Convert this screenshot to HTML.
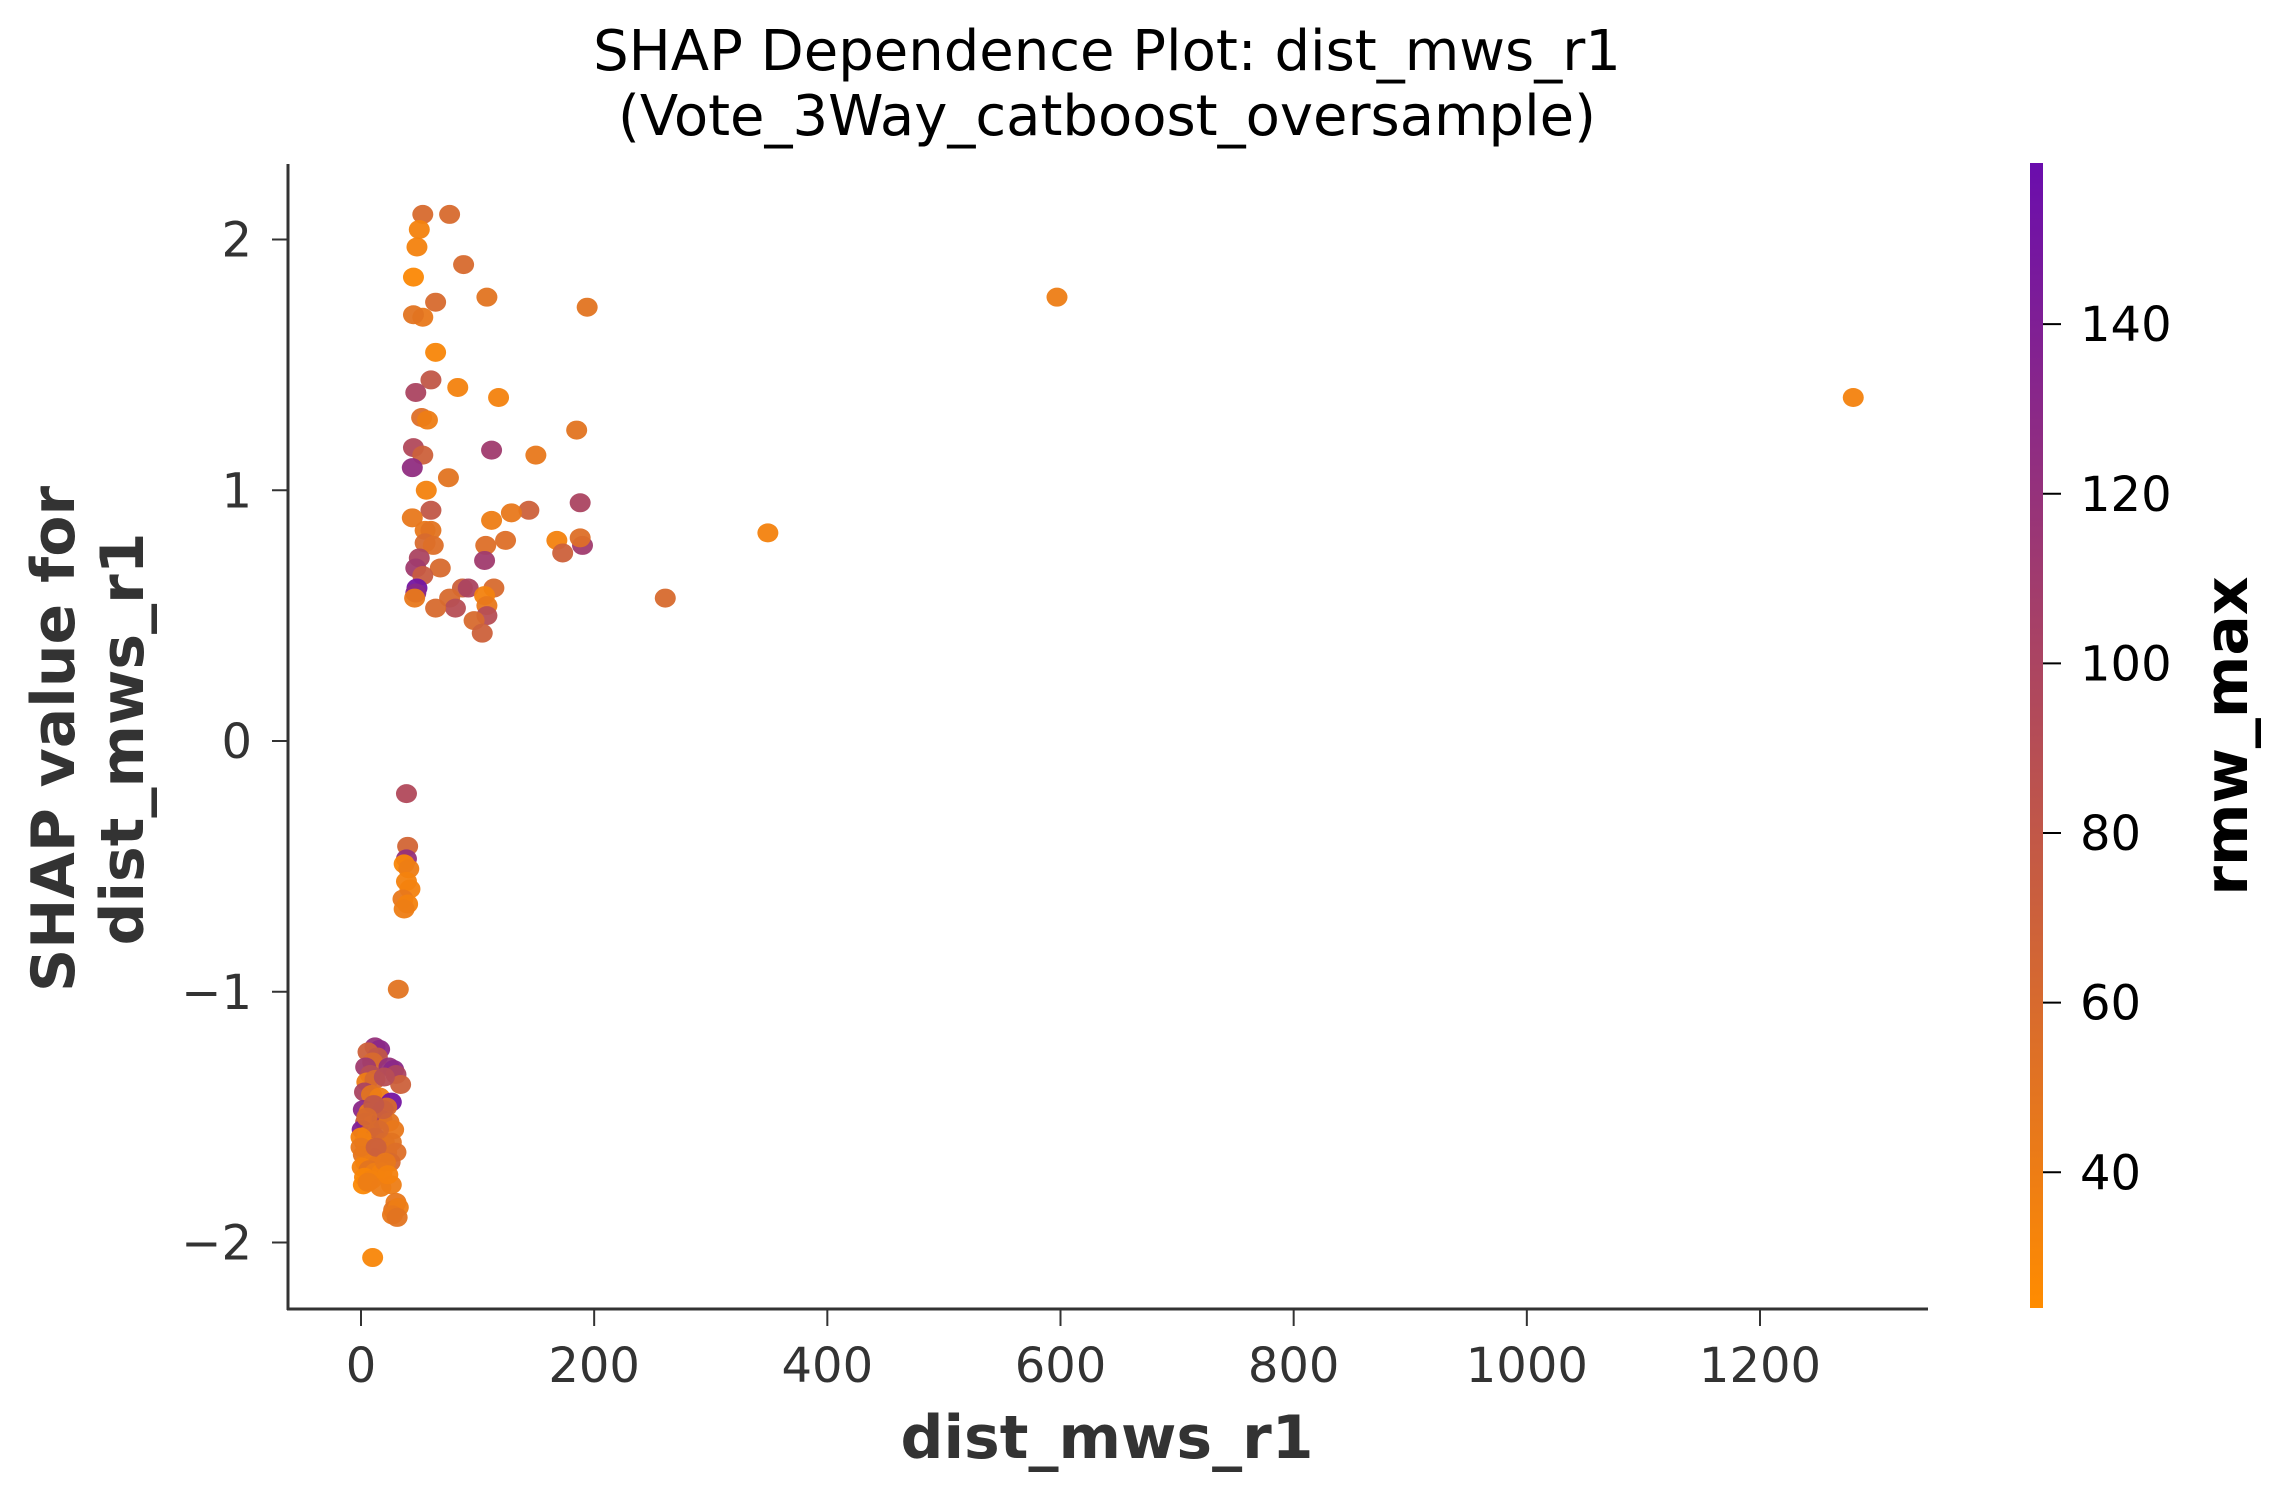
<!DOCTYPE html>
<html><head><meta charset="utf-8">
<style>
html,body{margin:0;padding:0;background:#fff;}
svg{display:block;font-family:"DejaVu Sans","Liberation Sans",sans-serif;}
</style></head>
<body>
<svg id="chart" width="2273" height="1493" viewBox="0 0 2273 1493" xmlns="http://www.w3.org/2000/svg">
<defs>
<linearGradient id="cbgrad" x1="0" y1="1" x2="0" y2="0">
<stop offset="0" stop-color="#ff8c00"/>
<stop offset="1" stop-color="#6a0dad"/>
</linearGradient>
</defs>
<g>
<text x="1107" y="70" text-anchor="middle" font-size="56" fill="#000">SHAP Dependence Plot: dist_mws_r1</text>
<text x="1107" y="135" text-anchor="middle" font-size="56" fill="#000">(Vote_3Way_catboost_oversample)</text>
</g>
<g id="points"></g>
<g id="axes"></g>
<rect x="2030" y="163" width="13" height="1145" fill="url(#cbgrad)"/>
<g id="cbticks"></g>
<text transform="translate(2247,736) rotate(-90)" text-anchor="middle" font-size="60" font-weight="bold" fill="#000">rmw_max</text>
<text x="1107" y="1458" text-anchor="middle" font-size="60" font-weight="bold" fill="#333">dist_mws_r1</text>
<g>
<text transform="translate(74,739) rotate(-90)" text-anchor="middle" font-size="60" font-weight="bold" fill="#333">SHAP value for</text>
<text transform="translate(143,739) rotate(-90)" text-anchor="middle" font-size="60" font-weight="bold" fill="#333">dist_mws_r1</text>
</g>
</svg>
<script>
const xTicks = [0,200,400,600,800,1000,1200];
const yTicks = [-2,-1,0,1,2];
const cTicks = [40,60,80,100,120,140];
const xVals = [53,76,50,48,88,45,64,108,194,53,45,64,60,83,118,47,52,57,185,45,112,53,150,44,75,56,188,60,144,44,129,112,55,60,124,168,55,62,107,190,188,173,50,47,68,53,106,48,47,87,92,114,46,76,106,108,81,64,108,97,104,261,349,597,1280,
39,40,39,37,41,39,42,36,40,37,32,10,
12,16,6,14,10,24,28,30,34,4,8,5,12,20,3,9,16,26,22,2,7,14,4,10,18,24,28,1,6,12,20,26,3,8,16,22,30,2,10,4,14,25,1,7,12,18,3,9,2,6,26,30,28,32,27,31,15,19,11,5,0,0,13,21,17,23];
const yVals = [2.1,2.1,2.04,1.97,1.9,1.85,1.75,1.77,1.73,1.69,1.7,1.55,1.44,1.41,1.37,1.39,1.29,1.28,1.24,1.17,1.16,1.14,1.14,1.09,1.05,1.0,0.95,0.92,0.92,0.89,0.91,0.88,0.84,0.84,0.8,0.8,0.79,0.78,0.78,0.78,0.81,0.75,0.73,0.69,0.69,0.66,0.72,0.61,0.59,0.61,0.61,0.61,0.57,0.57,0.58,0.54,0.53,0.53,0.5,0.48,0.43,0.57,0.83,1.77,1.37,
-0.21,-0.42,-0.47,-0.49,-0.51,-0.56,-0.59,-0.63,-0.65,-0.67,-0.99,-2.06,
-1.22,-1.23,-1.24,-1.26,-1.28,-1.30,-1.31,-1.33,-1.37,-1.3,-1.33,-1.36,-1.35,-1.34,-1.40,-1.41,-1.42,-1.44,-1.46,-1.47,-1.48,-1.5,-1.52,-1.53,-1.51,-1.52,-1.55,-1.55,-1.57,-1.58,-1.6,-1.6,-1.6,-1.62,-1.63,-1.64,-1.64,-1.65,-1.66,-1.68,-1.69,-1.68,-1.7,-1.71,-1.72,-1.72,-1.74,-1.75,-1.77,-1.76,-1.77,-1.84,-1.87,-1.86,-1.89,-1.9,-1.55,-1.47,-1.45,-1.5,-1.58,-1.62,-1.62,-1.68,-1.78,-1.73];
const cVals = [60,60,35,35,60,28,60,50,50,45,50,30,80,35,35,100,55,40,50,95,110,70,45,125,50,35,100,80,70,45,45,40,45,50,55,35,60,55,55,110,55,70,100,110,60,75,110,150,130,70,100,60,45,60,35,45,90,60,90,60,70,60,35,40,35,
95,65,120,30,40,35,35,45,35,40,50,30,
120,130,70,80,60,120,130,100,70,110,90,40,60,90,100,50,40,150,60,130,45,35,80,55,100,50,45,140,60,140,60,50,70,40,55,50,55,50,65,40,45,60,35,50,40,35,30,35,28,40,40,45,50,40,45,50,60,70,80,60,35,45,70,45,40,35];

const X0=361, XPX=(1760-361)/1200;
const Y0=741, YPX=(1242-239)/4;
const C_MIN=24, C_MAX=159, CB_TOP=163, CB_BOT=1308;
const xs = v => X0 + v*XPX;
const ys = v => Y0 - v*YPX;
const cs = v => CB_BOT - (v-C_MIN)/(C_MAX-C_MIN)*(CB_BOT-CB_TOP);
function color(v){
  let t=Math.max(0,Math.min(1,(v-C_MIN)/(C_MAX-C_MIN)));
  const a=[255,140,0], b=[106,13,173];
  return `rgb(${a.map((c,i)=>Math.round(c+(b[i]-c)*t)).join(',')})`;
}
const NS="http://www.w3.org/2000/svg";
const pts=document.getElementById('points');
xVals.forEach((xv,i)=>{
  const c=document.createElementNS(NS,'ellipse');
  
  
  c.setAttribute('cx',xs(xv)); c.setAttribute('cy',ys(yVals[i]));
  c.setAttribute('rx',10.5); c.setAttribute('ry',9.5);
  c.setAttribute('fill',color(cVals[i])); c.setAttribute('fill-opacity','0.95');
  pts.appendChild(c);
});
const ax=document.getElementById('axes');
function el(tag,attrs,parent,text){
  const e=document.createElementNS(NS,tag);
  for(const k in attrs) e.setAttribute(k,attrs[k]);
  if(text!==undefined) e.textContent=text;
  parent.appendChild(e); return e;
}
const l1=el('line',{x1:288,y1:164,x2:288,y2:1310,stroke:'#333','stroke-width':3},ax);


const l2=el('line',{x1:287,y1:1309,x2:1928,y2:1309,stroke:'#333','stroke-width':3},ax);


xTicks.forEach(t=>{
  const x=xs(t);
  const tk=el('line',{x1:x,y1:1309,x2:x,y2:1326,stroke:'#333','stroke-width':2},ax);
  
  
  const tx=el('text',{x:x,y:1382,'text-anchor':'middle','font-size':48,fill:'#333'},ax,String(t));
  
  
});
yTicks.forEach(t=>{
  const y=ys(t);
  const tk=el('line',{x1:272,y1:y,x2:288,y2:y,stroke:'#333','stroke-width':2},ax);
  
  
  const tx=el('text',{x:252,y:y+17,'text-anchor':'end','font-size':48,fill:'#333'},ax,t<0?'\u2212'+Math.abs(t):String(t));
  
  
});
const cb=document.getElementById('cbticks');
cTicks.forEach(t=>{
  const y=cs(t);
  const tk=el('line',{x1:2043,y1:y,x2:2061,y2:y,stroke:'#000','stroke-width':2},cb);
  
  
  const tx=el('text',{x:2080,y:y+17,'font-size':48,fill:'#000'},cb,String(t));
  
  
});
</script>
</body></html>
